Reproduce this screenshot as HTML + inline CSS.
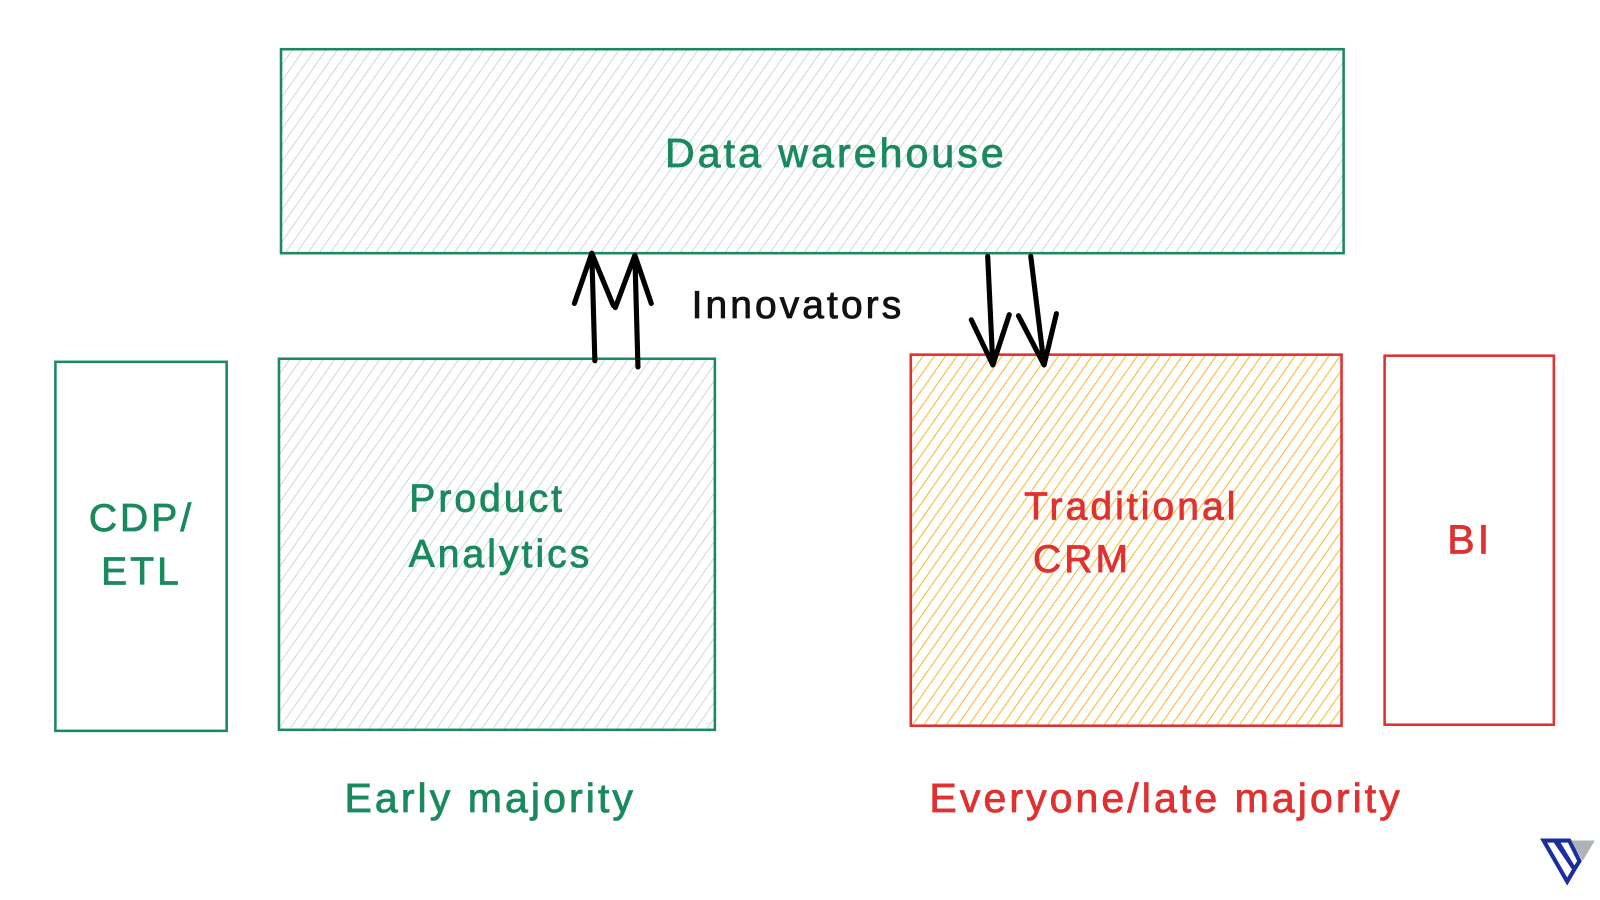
<!DOCTYPE html>
<html><head><meta charset="utf-8"><style>
html,body{margin:0;padding:0;background:#fff;}
svg{display:block}
text{font-family:"Comic Sans MS","Liberation Sans",sans-serif;letter-spacing:3px;stroke-width:0.8px;}
</style></head><body>
<svg width="1600" height="900" viewBox="0 0 1560 878" preserveAspectRatio="none" xmlns="http://www.w3.org/2000/svg">
<defs>
<pattern id="gh" width="9" height="9" patternUnits="userSpaceOnUse" patternTransform="rotate(35)">
<line x1="0" y1="0" x2="0" y2="9" stroke="#c8cdd2" stroke-width="1.6"/>
</pattern>
<pattern id="yh" width="9" height="9" patternUnits="userSpaceOnUse" patternTransform="rotate(35)">
<line x1="0" y1="0" x2="0" y2="9" stroke="#f5b82e" stroke-width="2"/>
</pattern>
</defs>
<rect x="0" y="0" width="1560" height="878" fill="#fff"/>
<rect x="274" y="48" width="1036" height="199" fill="url(#gh)" stroke="#1a8a5e" stroke-width="2.5"/>
<text x="815" y="163" font-size="40" fill="#1a8a5e" stroke="#1a8a5e" text-anchor="middle">Data warehouse</text>
<rect x="54" y="353" width="167" height="360" fill="none" stroke="#1a8a5e" stroke-width="2.5"/>
<text x="138" y="518" font-size="38" fill="#1a8a5e" stroke="#1a8a5e" text-anchor="middle">CDP/</text>
<text x="138" y="570" font-size="38" fill="#1a8a5e" stroke="#1a8a5e" text-anchor="middle">ETL</text>
<rect x="272" y="350" width="425" height="362" fill="url(#gh)" stroke="#1a8a5e" stroke-width="2.5"/>
<text x="475" y="499" font-size="38" fill="#1a8a5e" stroke="#1a8a5e" text-anchor="middle">Product</text>
<text x="488" y="553" font-size="38" fill="#1a8a5e" stroke="#1a8a5e" text-anchor="middle">Analytics</text>
<rect x="888" y="346" width="420" height="362" fill="url(#yh)" stroke="#e03131" stroke-width="2.5"/>
<text x="1103" y="507" font-size="38" fill="#e03131" stroke="#e03131" text-anchor="middle">Traditional</text>
<text x="1055" y="558" font-size="38" fill="#e03131" stroke="#e03131" text-anchor="middle">CRM</text>
<rect x="1350" y="347" width="165" height="360" fill="none" stroke="#e03131" stroke-width="2.5"/>
<text x="1433" y="540" font-size="40" fill="#e03131" stroke="#e03131" text-anchor="middle">BI</text>
<g stroke="#000" stroke-width="5" fill="none" stroke-linecap="round" stroke-linejoin="round">
<path d="M580 352 L577 247 M560 296 L577 247 L598 298"/>
<path d="M622 358 L619 249 M600 300 L619 249 L635 296"/>
<path d="M963 250 L968 356 M947 312 L968 356 L984 307"/>
<path d="M1005 250 L1018 356 M993 308 L1018 356 L1030 306"/>
</g>
<text x="778" y="310" font-size="38" fill="#111" stroke="#111" text-anchor="middle">Innovators</text>
<text x="478" y="792" font-size="40" fill="#1a8a5e" stroke="#1a8a5e" text-anchor="middle">Early majority</text>
<text x="1137" y="792" font-size="40" fill="#e03131" stroke="#e03131" text-anchor="middle">Everyone/late majority</text>
<g>
<path d="M1505 820 L1518 820 L1535 848 L1528 860 Z M1516 820 L1530 820 L1540 840 L1535 848 Z" fill="none" stroke="#1a2ea0" stroke-width="4"/>
<path d="M1532 820 L1555 820 L1543 840 Z" fill="#aeb3b8"/>
</g>
</svg>
</body></html>
